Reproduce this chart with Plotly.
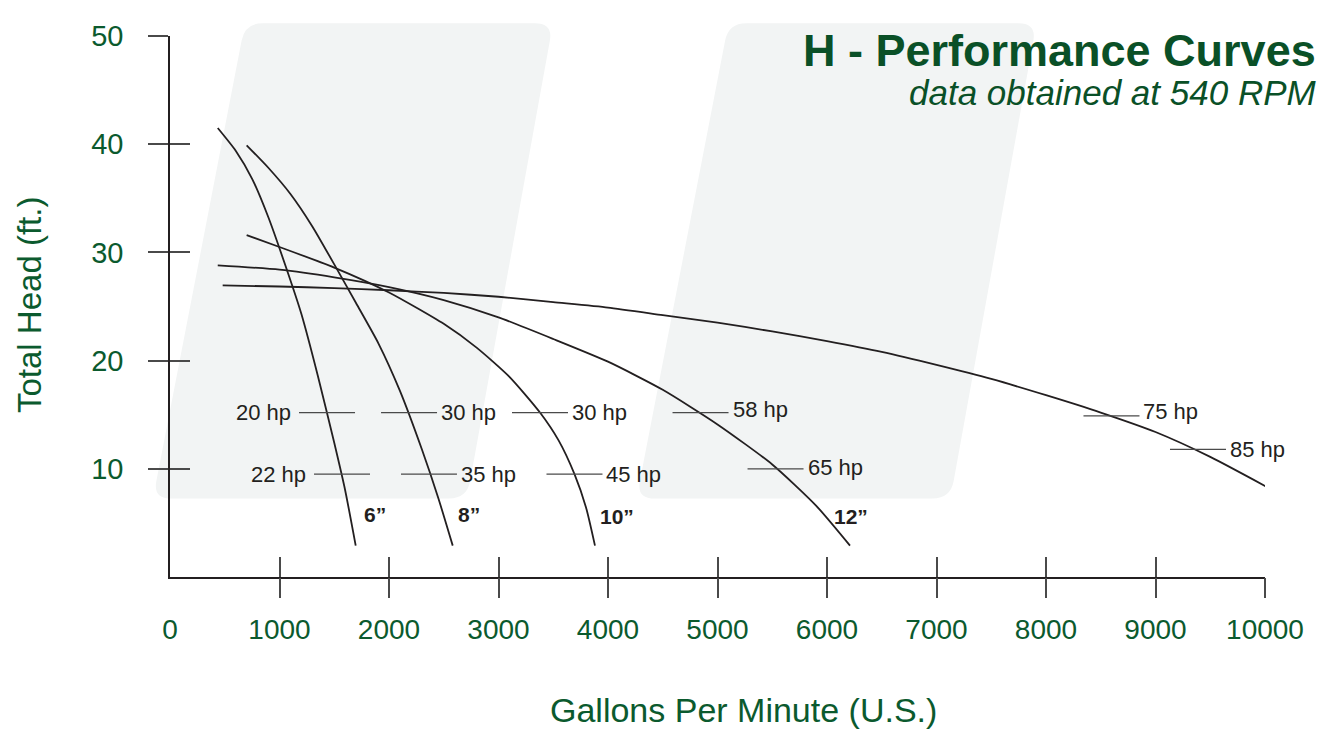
import math
import plotly.graph_objects as go

# ---------------- data ----------------
curve_names = ["6”", "8”", "10”", "12”", "16”"]

gpm_6 = [436, 600, 750, 900, 1050, 1200, 1350, 1500, 1600, 1696]
head_6 = [41.5, 39.4, 36.8, 33.2, 28.9, 24.3, 18.6, 12.4, 8.0, 2.9]

gpm_8 = [700, 900, 1100, 1300, 1522, 1700, 1903, 2100, 2300, 2450, 2582]
head_8 = [39.9, 37.8, 35.4, 32.4, 28.5, 25.3, 21.6, 17.2, 11.8, 7.3, 2.9]

gpm_10 = [700, 1000, 1500, 2000, 2500, 2800, 3100, 3379, 3550, 3694, 3800, 3881]
head_10 = [31.6, 30.5, 28.6, 26.3, 23.4, 21.2, 18.5, 15.2, 12.6, 9.5, 6.4, 2.9]

gpm_12 = [436, 1000, 1500, 2000, 2500, 3000, 3500, 4000, 4500, 5000, 5500, 5900, 6210]
head_12 = [28.8, 28.4, 27.7, 26.8, 25.6, 24.0, 22.0, 19.9, 17.3, 14.1, 10.4, 6.6, 2.9]

gpm_16 = [481, 1000, 1500, 2000, 2500, 3000, 3500, 4000, 4500, 5000, 5500, 6000,
          6500, 7000, 7500, 8000, 8500, 9000, 9500, 10167]
head_16 = [26.95, 26.85, 26.7, 26.5, 26.25, 25.9, 25.4, 24.9, 24.2, 23.5, 22.7, 21.8,
           20.8, 19.6, 18.3, 16.8, 15.2, 13.4, 11.1, 7.5]

# horsepower marks along the curves
hp_gpm = [1434, 1571, 2183, 2365, 3379, 3694, 4845, 5530, 8598, 9388]
hp_head = [15.2, 9.5, 15.2, 9.5, 15.2, 9.5, 15.2, 10.0, 14.9, 11.8]
hp_text = ["20 hp", "22 hp", "30 hp", "35 hp", "30 hp", "45 hp", "58 hp", "65 hp", "75 hp", "85 hp"]

# tick labels
x_ticks = [0, 1000, 2000, 3000, 4000, 5000, 6000, 7000, 8000, 9000, 10000]
y_ticks = [10, 20, 30, 40, 50]

# ---------------- layout / styling ----------------
OFF = 8                      # page body margin of the html page
W, H = 1312, 739
PW, PH = 1095, 551
ML, MT = 170 - OFF, 26 - OFF
MR, MB = W - ML - PW, H - MT - PH

GREEN = "#0b5a2e"
TITLE_GREEN = "#0a5027"
INK = "#231f20"
TICK = "#4a4a4a"
FONT = "Liberation Sans, Arial, Helvetica, sans-serif"

hp_side = ["left", "left", "right", "right", "right", "right", "right", "right", "right", "right"]
hp_yshift = [0, 0, 0, 0, 0, 0, 3, 1, 4, 0]
# curve label anchor points (data units)
label_gpm = [1753, 2612, 3909, 6046, 10164]
label_head = [5.8, 5.8, 5.6, 5.6, 8.9]

curves = [(gpm_6, head_6), (gpm_8, head_8), (gpm_10, head_10), (gpm_12, head_12), (gpm_16, head_16)]


def px2paper(px, py):
    """screen pixel -> paper coordinates of the plot area"""
    return (px - 170) / PW, (26 + PH - py) / PH


fig = go.Figure()

for name, (gx, hy) in zip(curve_names, curves):
    fig.add_trace(go.Scatter(
        x=gx, y=hy, mode="lines", name=name,
        line=dict(color=INK, width=1.8, shape="spline", smoothing=0.6),
        hoverinfo="skip", showlegend=False,
    ))

fig.add_trace(go.Scatter(
    x=hp_gpm, y=hp_head, mode="markers",
    marker=dict(symbol="line-ew", size=40, line=dict(color=TICK, width=1.3)),
    hoverinfo="skip", showlegend=False, cliponaxis=False,
))

# dummy traces so the overlay tick axes exist
for xa, ya in [("x2", "y"), ("x3", "y"), ("x", "y2")]:
    fig.add_trace(go.Scatter(x=[None], y=[None], xaxis=xa, yaxis=ya,
                             showlegend=False, hoverinfo="skip"))

ann = []
for gx, hy, t, side, ys in zip(hp_gpm, hp_head, hp_text, hp_side, hp_yshift):
    left = side == "left"
    ann.append(dict(x=gx, y=hy, text=t, xanchor="right" if left else "left", yanchor="middle",
                    xshift=-34 if left else 30, yshift=ys, showarrow=False,
                    font=dict(family=FONT, size=22, color=INK)))

for name, gx, hy in zip(curve_names, label_gpm, label_head):
    ann.append(dict(x=gx, y=hy, text="<b>" + name + "</b>", xanchor="left", yanchor="middle",
                    showarrow=False, font=dict(family=FONT, size=21, color=INK)))

ann.append(dict(xref="paper", yref="paper", x=px2paper(1318, 0)[0], y=px2paper(0, 41)[1],
                text="<b>H - Performance Curves</b>", xanchor="right", yanchor="middle",
                showarrow=False, font=dict(family=FONT, size=45, color=TITLE_GREEN)))
ann.append(dict(xref="paper", yref="paper", x=px2paper(1319, 0)[0], y=px2paper(0, 84)[1],
                text="<i>data obtained at 540 RPM</i>", xanchor="right", yanchor="middle",
                showarrow=False, font=dict(family=FONT, size=35, color=TITLE_GREEN)))
ann.append(dict(xref="paper", yref="paper", x=px2paper(743, 0)[0], y=px2paper(0, 712)[1],
                text="Gallons Per Minute (U.S.)", xanchor="center", yanchor="middle",
                showarrow=False, font=dict(family=FONT, size=34, color=GREEN)))
ann.append(dict(xref="paper", yref="paper", x=px2paper(29, 0)[0], y=px2paper(0, 300)[1],
                text="Total Head (ft.)", textangle=-90, xanchor="center", yanchor="middle",
                showarrow=False, font=dict(family=FONT, size=33, color=GREEN)))


# background rounded parallelograms
def rounded_path(pts, r):
    segs = []
    n = len(pts)
    for i in range(n):
        p = pts[i]
        a = pts[i - 1]
        b = pts[(i + 1) % n]
        da = (a[0] - p[0], a[1] - p[1]); la = math.hypot(*da)
        db = (b[0] - p[0], b[1] - p[1]); lb = math.hypot(*db)
        A = (p[0] + da[0] / la * r, p[1] + da[1] / la * r)
        B = (p[0] + db[0] / lb * r, p[1] + db[1] / lb * r)
        segs.append((A, p, B))

    def f(pt):
        x, y = px2paper(*pt)
        return f"{x:.5f},{y:.5f}"
    d = f"M{f(segs[0][0])} Q{f(segs[0][1])} {f(segs[0][2])}"
    for A, p, B in segs[1:]:
        d += f" L{f(A)} Q{f(p)} {f(B)}"
    d += f" L{f(segs[0][0])} Z"
    return d


base = [(245, 13), (553, 13), (467, 497), (153, 497)]
shapes = []
for dx in (0, 483.5):
    pts = [(x + dx, y) for x, y in base]
    shapes.append(dict(type="path", xref="paper", yref="paper", path=rounded_path(pts, 18),
                       fillcolor="#f2f4f4", line=dict(width=0), layer="below"))

common_tick_font = dict(family=FONT, size=28, color=GREEN)
tick_axis = dict(tickmode="array", tickwidth=1.5, tickcolor=TICK, ticklen=20,
                 showticklabels=False, showline=False, showgrid=False, zeroline=False)

fig.update_layout(
    width=W, height=H,
    margin=dict(l=ML, r=MR, t=MT, b=MB, pad=0),
    paper_bgcolor="white", plot_bgcolor="rgba(0,0,0,0)",
    showlegend=False,
    annotations=ann, shapes=shapes,
    xaxis=dict(range=[0, 10000], tickmode="array", tickvals=x_ticks,
               ticktext=[str(v) for v in x_ticks], ticks="", ticklabelstandoff=27,
               showline=True, linecolor=INK, linewidth=1.5, showgrid=False, zeroline=False,
               tickfont=common_tick_font, fixedrange=True),
    xaxis2=dict(range=[0, 10000], overlaying="x", anchor="y", side="bottom",
                tickvals=x_ticks[1:], ticks="outside", **tick_axis),
    xaxis3=dict(range=[0, 10000], overlaying="x", anchor="y", side="bottom",
                tickvals=x_ticks[1:], ticks="inside", **tick_axis),
    yaxis=dict(range=[0, 50], tickmode="array", tickvals=y_ticks,
               ticktext=[str(v) for v in y_ticks], ticks="outside", ticklen=20,
               tickwidth=1.5, tickcolor=TICK, ticklabelstandoff=19,
               showline=True, linecolor=INK, linewidth=1.5, showgrid=False, zeroline=False,
               tickfont=dict(family=FONT, size=29, color=GREEN), fixedrange=True),
    yaxis2=dict(range=[0, 50], overlaying="y", anchor="x", side="left",
                tickvals=y_ticks, ticks="inside", **tick_axis),
)

fig.write_html("out.html")
